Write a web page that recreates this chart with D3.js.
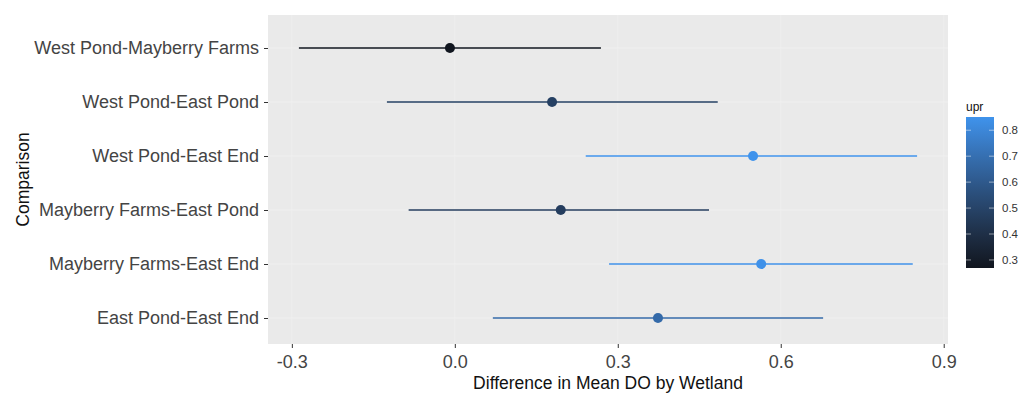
<!DOCTYPE html>
<html>
<head>
<meta charset="utf-8">
<script src="https://cdn.jsdelivr.net/npm/d3@7"></script>
<style>
  body { margin: 0; background: #fff; }
  text { font-family: "Liberation Sans", Arial, sans-serif; }
</style>
</head>
<body>
<svg id="chart"></svg>
<script>
// data (Tukey style comparisons)
const comparisons = [
  "West Pond-Mayberry Farms",
  "West Pond-East Pond",
  "West Pond-East End",
  "Mayberry Farms-East Pond",
  "Mayberry Farms-East End",
  "East Pond-East End"
];
const diffs = [-0.009, 0.179, 0.549, 0.195, 0.564, 0.374];
const lowers = [-0.287, -0.125, 0.241, -0.085, 0.284, 0.070];
const uppers = [0.269, 0.484, 0.851, 0.468, 0.843, 0.678];
const xTicks = [-0.3, 0.0, 0.3, 0.6, 0.9];
const legendTicks = [0.3, 0.4, 0.5, 0.6, 0.7, 0.8];

// constants
const width = 1034;
const height = 393;
const panel = { left: 268, right: 948, top: 15, bottom: 344 };

const svg = d3.select('#chart')
  .attr('width', width)
  .attr('height', height);

const rows = comparisons.map((c, i) => ({
  comp: c, diff: diffs[i], lwr: lowers[i], upr: uppers[i]
}));

// scales
const xMin = d3.min(lowers), xMax = d3.max(uppers);
const xPad = (xMax - xMin) * 0.05;
const x = d3.scaleLinear()
  .domain([xMin - xPad, xMax + xPad])
  .range([panel.left, panel.right]);

const y = d3.scalePoint()
  .domain(comparisons)
  .range([48, 318]);

const color = d3.scaleLinear()
  .domain(d3.extent(uppers))
  .range(["#11161f", "#3f93ec"])
  .interpolate(d3.interpolateLab);

// panel background + grid
svg.append('rect')
  .attr('x', panel.left)
  .attr('y', panel.top)
  .attr('width', panel.right - panel.left)
  .attr('height', panel.bottom - panel.top)
  .attr('fill', '#eaeaea');

svg.append('g')
  .selectAll('line')
  .data(xTicks)
  .enter().append('line')
  .attr('x1', d => x(d)).attr('x2', d => x(d))
  .attr('y1', panel.top).attr('y2', panel.bottom)
  .attr('stroke', '#eeeeee')
  .attr('stroke-width', 1);

svg.append('g')
  .selectAll('line')
  .data(comparisons)
  .enter().append('line')
  .attr('x1', panel.left).attr('x2', panel.right)
  .attr('y1', d => y(d)).attr('y2', d => y(d))
  .attr('stroke', '#f0f0f0')
  .attr('stroke-width', 1);

// error bars and points
svg.append('g')
  .selectAll('line')
  .data(rows)
  .enter().append('line')
  .attr('x1', d => x(d.lwr))
  .attr('x2', d => x(d.upr))
  .attr('y1', d => y(d.comp))
  .attr('y2', d => y(d.comp))
  .attr('stroke', d => color(d.upr))
  .attr('stroke-width', 1.6);

svg.append('g')
  .selectAll('circle')
  .data(rows)
  .enter().append('circle')
  .attr('cx', d => x(d.diff))
  .attr('cy', d => y(d.comp))
  .attr('r', 5)
  .attr('fill', d => color(d.upr));

// axes (plain hyphen for minus, like the original)
const fmt = v => d3.format('.1f')(v).replace('\u2212', '-');

const xAxis = svg.append('g')
  .attr('transform', 'translate(0,' + panel.bottom + ')')
  .call(d3.axisBottom(x).tickValues(xTicks).tickFormat(fmt).tickSize(4).tickPadding(7));
xAxis.select('.domain').remove();
xAxis.selectAll('line').attr('stroke', '#333');
xAxis.selectAll('text')
  .attr('font-size', 18)
  .attr('fill', '#444');

const yAxis = svg.append('g')
  .attr('transform', 'translate(' + panel.left + ',0)')
  .call(d3.axisLeft(y).tickSize(4).tickPadding(5));
yAxis.select('.domain').remove();
yAxis.selectAll('line').attr('stroke', '#333');
yAxis.selectAll('text')
  .attr('font-size', 18)
  .attr('fill', '#444');

// axis titles
svg.append('text')
  .attr('x', (panel.left + panel.right) / 2)
  .attr('y', 389)
  .attr('text-anchor', 'middle')
  .attr('font-size', 17.5)
  .attr('fill', '#111')
  .text('Difference in Mean DO by Wetland');

svg.append('text')
  .attr('transform', 'translate(29,' + (panel.top + panel.bottom) / 2 + ') rotate(-90)')
  .attr('text-anchor', 'middle')
  .attr('font-size', 17.5)
  .attr('fill', '#111')
  .text('Comparison');

// colour legend
const legend = { x: 966, top: 117, bottom: 268, w: 28 };
const ly = d3.scaleLinear()
  .domain(d3.extent(uppers))
  .range([legend.bottom, legend.top]);

const grad = svg.append('defs').append('linearGradient')
  .attr('id', 'uprGrad')
  .attr('x1', 0).attr('y1', 1).attr('x2', 0).attr('y2', 0);
d3.range(0, 1.0001, 0.1).forEach(t => {
  grad.append('stop')
    .attr('offset', t)
    .attr('stop-color', color(ly.domain()[0] + t * (ly.domain()[1] - ly.domain()[0])));
});

svg.append('rect')
  .attr('x', legend.x)
  .attr('y', legend.top)
  .attr('width', legend.w)
  .attr('height', legend.bottom - legend.top)
  .attr('fill', 'url(#uprGrad)');

const lt = svg.append('g');
legendTicks.forEach(v => {
  lt.append('line')
    .attr('x1', legend.x).attr('x2', legend.x + 5)
    .attr('y1', ly(v)).attr('y2', ly(v))
    .attr('stroke', '#fff').attr('stroke-opacity', 0.5);
  lt.append('line')
    .attr('x1', legend.x + legend.w - 5).attr('x2', legend.x + legend.w)
    .attr('y1', ly(v)).attr('y2', ly(v))
    .attr('stroke', '#fff').attr('stroke-opacity', 0.5);
  lt.append('text')
    .attr('x', legend.x + legend.w + 8)
    .attr('y', ly(v))
    .attr('dy', '0.35em')
    .attr('font-size', 11.5)
    .attr('fill', '#333')
    .text(d3.format('.1f')(v));
});

svg.append('text')
  .attr('x', legend.x)
  .attr('y', 111)
  .attr('font-size', 12)
  .attr('fill', '#111')
  .text('upr');
</script>
</body>
</html>
